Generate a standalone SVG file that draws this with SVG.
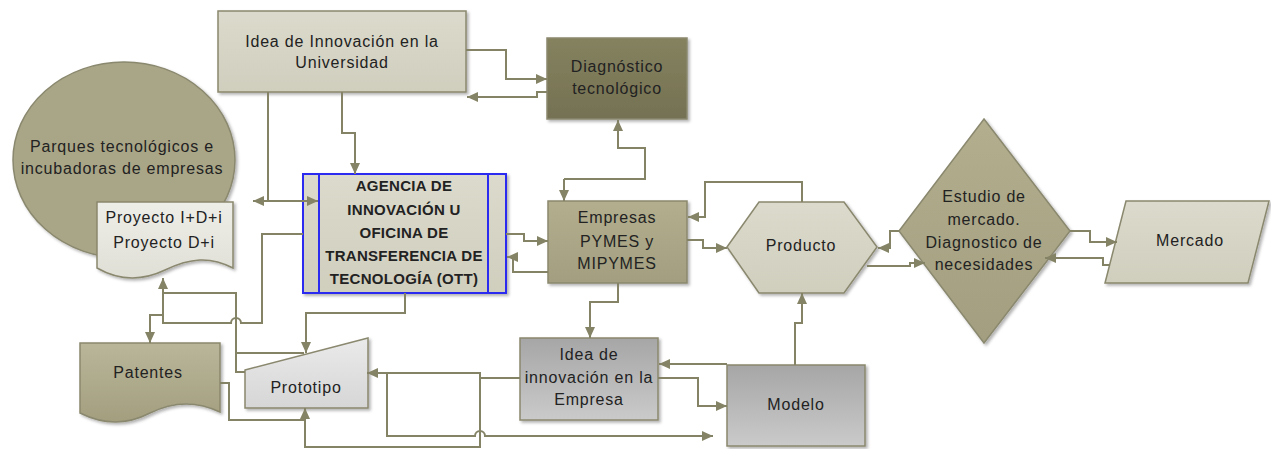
<svg xmlns="http://www.w3.org/2000/svg" width="1271" height="449" viewBox="0 0 1271 449">
<style>
  .lbl{font-family:"Liberation Sans",Arial,sans-serif;font-size:16px;letter-spacing:0.8px;fill:#222;text-anchor:middle}
  .bold{font-weight:bold;font-size:15px;letter-spacing:0.3px}
  .shape{stroke:#8a886e;stroke-width:1.5;filter:url(#sh)}
  .con{fill:none;stroke:#858366;stroke-width:2}
  .arr{marker-end:url(#ah)}
</style>
<defs>
  <filter id="sh" x="-10%" y="-10%" width="125%" height="125%">
    <feDropShadow dx="2" dy="2" stdDeviation="1.5" flood-color="#000" flood-opacity="0.3"/>
  </filter>
  <marker id="ah" markerUnits="userSpaceOnUse" markerWidth="12" markerHeight="12" viewBox="0 0 12 12" refX="11" refY="6" orient="auto">
    <path d="M0,1 L11,6 L0,11 Z" fill="#858366"/>
  </marker>
  <linearGradient id="gLight" x1="0" y1="0" x2="0" y2="1"><stop offset="0" stop-color="#dcdacc"/><stop offset="1" stop-color="#d0cebd"/></linearGradient>
  <linearGradient id="gDark" x1="0" y1="0" x2="0" y2="1"><stop offset="0" stop-color="#85825f"/><stop offset="1" stop-color="#747153"/></linearGradient>
  <linearGradient id="gOlive" x1="0" y1="0" x2="0" y2="1"><stop offset="0" stop-color="#b2ae8e"/><stop offset="1" stop-color="#a29e7f"/></linearGradient>
  <linearGradient id="gGray" x1="0" y1="0" x2="0" y2="1"><stop offset="0" stop-color="#a6a6a6"/><stop offset="1" stop-color="#cacaca"/></linearGradient>
  <linearGradient id="gPaper" x1="0" y1="0" x2="0" y2="1"><stop offset="0" stop-color="#eeeee8"/><stop offset="1" stop-color="#e0dfd6"/></linearGradient>
  <linearGradient id="gProto" x1="0" y1="0" x2="0" y2="1"><stop offset="0" stop-color="#eaeaea"/><stop offset="1" stop-color="#d6d6d6"/></linearGradient>
  <linearGradient id="gPat" x1="0" y1="0" x2="0" y2="1"><stop offset="0" stop-color="#bab69a"/><stop offset="1" stop-color="#a29e7e"/></linearGradient>
</defs>

<g id="n-parques">
  <ellipse class="shape" cx="124" cy="160" rx="111" ry="98" fill="#a9a687"/>
  <text class="lbl" x="122" y="152">Parques tecnológicos e</text>
  <text class="lbl" x="122" y="174">incubadoras de empresas</text>
</g>
<g id="n-proyecto">
  <path class="shape" d="M97,202 H233 V268 C210,256 190,258 165,270 C140,282 118,280 97,268 Z" fill="url(#gPaper)"/>
  <text class="lbl" x="164" y="223">Proyecto I+D+i</text>
  <text class="lbl" x="164" y="248">Proyecto D+i</text>
</g>
<g id="n-idea-univ">
  <rect class="shape" x="218" y="11" width="248" height="81" fill="url(#gLight)"/>
  <text class="lbl" x="342" y="47">Idea de Innovación en la</text>
  <text class="lbl" x="342" y="68">Universidad</text>
</g>
<g id="n-diagnostico">
  <rect class="shape" x="547" y="38" width="140" height="81" fill="url(#gDark)"/>
  <text class="lbl" x="617" y="72">Diagnóstico</text>
  <text class="lbl" x="617" y="94">tecnológico</text>
</g>
<g id="n-agencia">
  <rect x="303" y="174" width="203" height="119" fill="url(#gLight)" stroke="#2b2bf0" stroke-width="2" filter="url(#sh)"/>
  <line x1="319" y1="174" x2="319" y2="293" stroke="#2b2bf0" stroke-width="2"/>
  <line x1="488" y1="174" x2="488" y2="293" stroke="#2b2bf0" stroke-width="2"/>
  <text class="lbl bold" x="404" y="191">AGENCIA DE</text>
  <text class="lbl bold" x="404" y="215">INNOVACIÓN U</text>
  <text class="lbl bold" x="404" y="238">OFICINA DE</text>
  <text class="lbl bold" x="404" y="261">TRANSFERENCIA DE</text>
  <text class="lbl bold" x="404" y="284">TECNOLOGÍA (OTT)</text>
</g>
<g id="n-empresas">
  <rect class="shape" x="548" y="201" width="139" height="82" fill="url(#gOlive)"/>
  <text class="lbl" x="617" y="223">Empresas</text>
  <text class="lbl" x="617" y="247">PYMES y</text>
  <text class="lbl" x="617" y="269">MIPYMES</text>
</g>
<g id="n-producto">
  <polygon class="shape" points="727,247 759,202 844,202 877,247 844,293 759,293" fill="url(#gLight)"/>
  <text class="lbl" x="801" y="251">Producto</text>
</g>
<g id="n-estudio">
  <polygon class="shape" points="984,119 1070,231 984,343 899,231" fill="url(#gOlive)"/>
  <text class="lbl" x="984" y="202">Estudio de</text>
  <text class="lbl" x="984" y="225">mercado.</text>
  <text class="lbl" x="984" y="248">Diagnostico de</text>
  <text class="lbl" x="984" y="270">necesidades</text>
</g>
<g id="n-mercado">
  <polygon class="shape" points="1126,201 1269,201 1248,283 1105,283" fill="url(#gLight)"/>
  <text class="lbl" x="1190" y="246">Mercado</text>
</g>
<g id="n-idea-empresa">
  <rect class="shape" x="520" y="338" width="138" height="82" fill="url(#gGray)"/>
  <text class="lbl" x="589" y="360">Idea de</text>
  <text class="lbl" x="589" y="383">innovación en la</text>
  <text class="lbl" x="589" y="405">Empresa</text>
</g>
<g id="n-modelo">
  <rect class="shape" x="727" y="365" width="138" height="81" fill="url(#gGray)"/>
  <text class="lbl" x="796" y="410">Modelo</text>
</g>
<g id="n-patentes">
  <path class="shape" d="M80,343 H220 V412 C195,400 172,402 150,413 C125,426 102,424 80,413 Z" fill="url(#gPat)"/>
  <text class="lbl" x="148" y="378">Patentes</text>
</g>
<g id="n-prototipo">
  <polygon class="shape" points="245,370 368,338 368,408 245,408" fill="url(#gProto)"/>
  <text class="lbl" x="306" y="393">Prototipo</text>
</g>

<g id="connectors">
  <path class="con arr" d="M268,92 V201 H253"/>
  <path class="con arr" d="M268,201 H318"/>
  <path class="con arr" d="M342,92 V133 H355 V174"/>
  <path class="con arr" d="M466,50 H506 V79 H547"/>
  <path class="con arr" d="M547,92 H537 V97 H467"/>
  <path class="con arr" d="M564,179 H645 V148 H618 V120"/>
  <path class="con arr" d="M564,179 V201"/>
  <path class="con arr" d="M802,202 V182 H705 V217 H688"/>
  <path class="con arr" d="M687,240 H703 V248 H727"/>
  <path class="con arr" d="M506,234 H524 V241 H548"/>
  <path class="con arr" d="M548,272 H513 V257 H507"/>
  <path class="con arr" d="M618,283 V302 H590 V338"/>
  <path class="con arr" d="M795,365 V323 H802 V293"/>
  <path class="con arr" d="M727,364 H659"/>
  <path class="con arr" d="M658,378 H698 V406 H727"/>
  <path class="con arr" d="M899,231 H890 V248 H878"/>
  <path class="con arr" d="M867,266 H910 V263 H925"/>
  <path class="con arr" d="M1070,231 H1090 V242 H1117"/>
  <path class="con arr" d="M1110,265 H1103 V258 H1045"/>
  <path class="con arr" d="M303,234 H262 V323 H241 a5,5 0 0 0 -10,0 H163 V278"/>
  <path class="con arr" d="M163,315 H150 V343"/>
  <path class="con" d="M163,293 H236 V372 H245"/>
  <path class="con" d="M236,353 H304"/>
  <path class="con arr" d="M405,293 V313 H306 V353"/>
  <path class="con" d="M220,383 H229 V420 H305"/>
  <path class="con arr" d="M480,373 V447 H305 V408"/>
  <path class="con arr" d="M520,378 H480 V373 H367"/>
  <path class="con arr" d="M387,373 V436 H475 a5,5 0 0 1 10,0 H713"/>
</g>
</svg>
